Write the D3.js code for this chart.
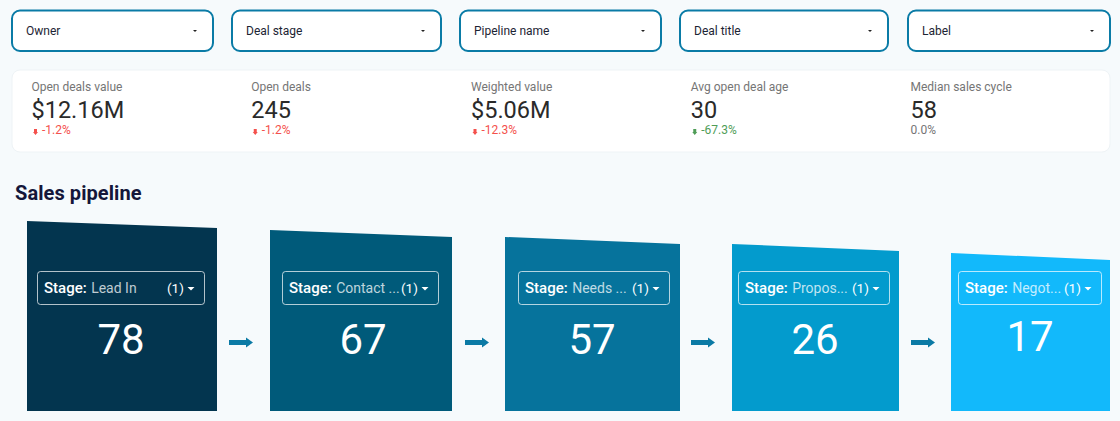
<!DOCTYPE html>
<html>
  <head>
    <meta charset="utf-8"/>
    <title>Sales pipeline</title>
    <script src="https://d3js.org/d3.v7.min.js" charset="utf-8"></script>
    <style>
      html, body { margin: 0; padding: 0; background: #f6fafc; overflow: hidden; }
      svg { display: block; font-family: Roboto, sans-serif; }
    </style>
  </head>
  <body>
    <script>
      // Values
      var filterNames = ['Owner', 'Deal stage', 'Pipeline name', 'Deal title', 'Label'];

      var kpiLabels = ['Open deals value', 'Open deals', 'Weighted value', 'Avg open deal age', 'Median sales cycle'];
      var kpiValues = ['$12.16M', '245', '$5.06M', '30', '58'];
      var kpiDeltas = ['-1.2%', '-1.2%', '-12.3%', '-67.3%', '0.0%'];
      var kpiMoods = ['bad', 'bad', 'bad', 'good', 'flat'];

      var stageNames = ['Lead In', 'Contact ...', 'Needs ...', 'Propos...', 'Negot...'];
      var stageCounts = [78, 67, 57, 26, 17];

      // Layout
      var width = 1120, height = 421;
      var svg = d3.select('body').append('svg').attr('width', width).attr('height', height);

      var filterLeft = d3.scaleOrdinal().domain(filterNames).range([12, 232, 460, 680, 908]);
      var filterRight = d3.scaleOrdinal().domain(filterNames).range([213, 441, 661, 888, 1110]);

      var kpiX = d3.scalePoint().domain(kpiLabels).range([31.5, 910.5]);

      var stageLeft = d3.scaleOrdinal().domain(stageNames).range([27, 270, 505, 732, 951]);
      var stageRight = d3.scaleOrdinal().domain(stageNames).range([217, 452, 680, 899, 1110]);
      var stageTop = d3.scaleOrdinal().domain(stageNames).range([221, 230, 237, 244, 253]);
      var stageFill = d3.scaleOrdinal().domain(stageNames)
          .range(['#03354f', '#005a7a', '#06739c', '#039bcd', '#12b9fb']);
      var pillLeft = d3.scaleOrdinal().domain(stageNames).range([37, 282, 518, 738, 958]);
      var pillRight = d3.scaleOrdinal().domain(stageNames).range([205, 439, 670, 890, 1102]);
      var numberX = d3.scaleOrdinal().domain(stageNames).range([121, 363, 592, 815, 1030]);
      var numberY = d3.scaleOrdinal().domain(stageNames).range([354, 354, 354, 354, 351]);
      var arrowX = d3.scaleOrdinal().domain(stageNames).range([229, 465, 691, 911, 0]);

      var bottom = 411;
      var slope = 7;

      // Filter dropdowns
      var filters = svg.selectAll('g.filter').data(filterNames).enter().append('g').attr('class', 'filter');
      filters.append('rect')
          .attr('x', function(d) { return filterLeft(d); })
          .attr('y', 10.5)
          .attr('width', function(d) { return filterRight(d) - filterLeft(d); })
          .attr('height', 40.5)
          .attr('rx', 8)
          .attr('fill', '#fff')
          .attr('stroke', '#0a7ba6')
          .attr('stroke-width', 2);
      filters.append('text')
          .attr('x', function(d) { return filterLeft(d) + 14; })
          .attr('y', 35)
          .attr('font-size', 12)
          .attr('fill', '#1c2433')
          .text(function(d) { return d; });
      filters.append('path')
          .attr('d', function(d) {
            var x = filterRight(d) - 18;
            return 'M' + (x - 2) + ',30L' + (x + 2) + ',30L' + x + ',32Z';
          })
          .attr('fill', '#222');

      // Scorecards
      svg.append('rect')
          .attr('x', 12).attr('y', 70)
          .attr('width', 1098).attr('height', 82)
          .attr('rx', 8)
          .attr('fill', '#fff')
          .attr('stroke', '#eef3f6');

      var moodColor = { bad: '#f4504c', good: '#4f9d57', flat: '#757575' };

      var kpis = svg.selectAll('g.kpi').data(kpiLabels).enter().append('g').attr('class', 'kpi');
      kpis.append('text')
          .attr('x', function(d) { return kpiX(d); })
          .attr('y', 91)
          .attr('font-size', 12)
          .attr('fill', '#757575')
          .text(function(d) { return d; });
      kpis.append('text')
          .attr('x', function(d) { return kpiX(d); })
          .attr('y', 118)
          .attr('font-size', 23.5)
          .attr('fill', '#2a2a2a')
          .text(function(d, i) { return kpiValues[i]; });
      kpis.append('text')
          .attr('x', function(d, i) { return kpiMoods[i] == 'flat' ? kpiX(d) : kpiX(d) + 10.5; })
          .attr('y', 134)
          .attr('font-size', 12)
          .attr('fill', function(d, i) { return moodColor[kpiMoods[i]]; })
          .text(function(d, i) { return kpiDeltas[i]; });
      // small down arrows next to the deltas
      kpis.filter(function(d, i) { return kpiMoods[i] != 'flat'; }).append('path')
          .attr('d', function(d) {
            var x = kpiX(d) + 4;
            return 'M' + (x - 1.5) + ',129h3v3h1l-2.5,3l-2.5,-3h1Z';
          })
          .attr('fill', function(d) { return moodColor[kpiMoods[kpiLabels.indexOf(d)]]; });

      // Section title
      svg.append('text')
          .attr('x', 15).attr('y', 200)
          .attr('font-size', 20)
          .attr('font-weight', 700)
          .attr('letter-spacing', 0.08)
          .attr('fill', '#14163a')
          .text('Sales pipeline');

      // Pipeline stages
      var stages = svg.selectAll('g.stage').data(stageNames).enter().append('g').attr('class', 'stage');

      stages.append('path')
          .attr('d', function(d) {
            var l = stageLeft(d), r = stageRight(d), t = stageTop(d);
            return 'M' + l + ',' + t + 'L' + r + ',' + (t + slope) + 'L' + r + ',' + bottom + 'L' + l + ',' + bottom + 'Z';
          })
          .attr('fill', function(d) { return stageFill(d); });

      stages.append('rect')
          .attr('x', function(d) { return pillLeft(d) + 0.5; })
          .attr('y', 271.5)
          .attr('width', function(d) { return pillRight(d) - pillLeft(d) - 1; })
          .attr('height', 33)
          .attr('rx', 3)
          .attr('fill', 'none')
          .attr('stroke', 'rgba(255,255,255,0.7)');

      var labels = stages.append('text')
          .attr('x', function(d) { return pillLeft(d) + 7; })
          .attr('y', 293)
          .attr('fill', '#fff');
      labels.append('tspan')
          .attr('font-size', 15)
          .attr('font-weight', 500)
          .text('Stage:');
      labels.append('tspan')
          .attr('dx', 4.5)
          .attr('font-size', 14)
          .attr('fill', 'rgba(255,255,255,0.75)')
          .text(function(d) { return d; });

      stages.append('text')
          .attr('x', function(d) { return pillRight(d) - 38; })
          .attr('y', 293)
          .attr('font-size', 13.5)
          .attr('fill', '#fff')
          .text('(1)');

      stages.append('path')
          .attr('d', function(d) {
            var x = pillRight(d) - 14;
            return 'M' + (x - 3.5) + ',287L' + (x + 3.5) + ',287L' + x + ',290.5Z';
          })
          .attr('fill', '#fff');

      stages.append('text')
          .attr('x', function(d) { return numberX(d); })
          .attr('y', function(d) { return numberY(d); })
          .attr('text-anchor', 'middle')
          .attr('font-size', 42)
          .attr('fill', '#fff')
          .text(function(d, i) { return stageCounts[i]; });

      // Arrows between the stages
      svg.selectAll('path.arrow').data(stageNames.slice(0, -1)).enter().append('path')
          .attr('class', 'arrow')
          .attr('d', function(d) {
            var x = arrowX(d);
            return 'M' + x + ',340h17v-2.5l7,5l-7,5v-2.5h-17Z';
          })
          .attr('fill', '#0b7aa5');
    </script>
  </body>
</html>
